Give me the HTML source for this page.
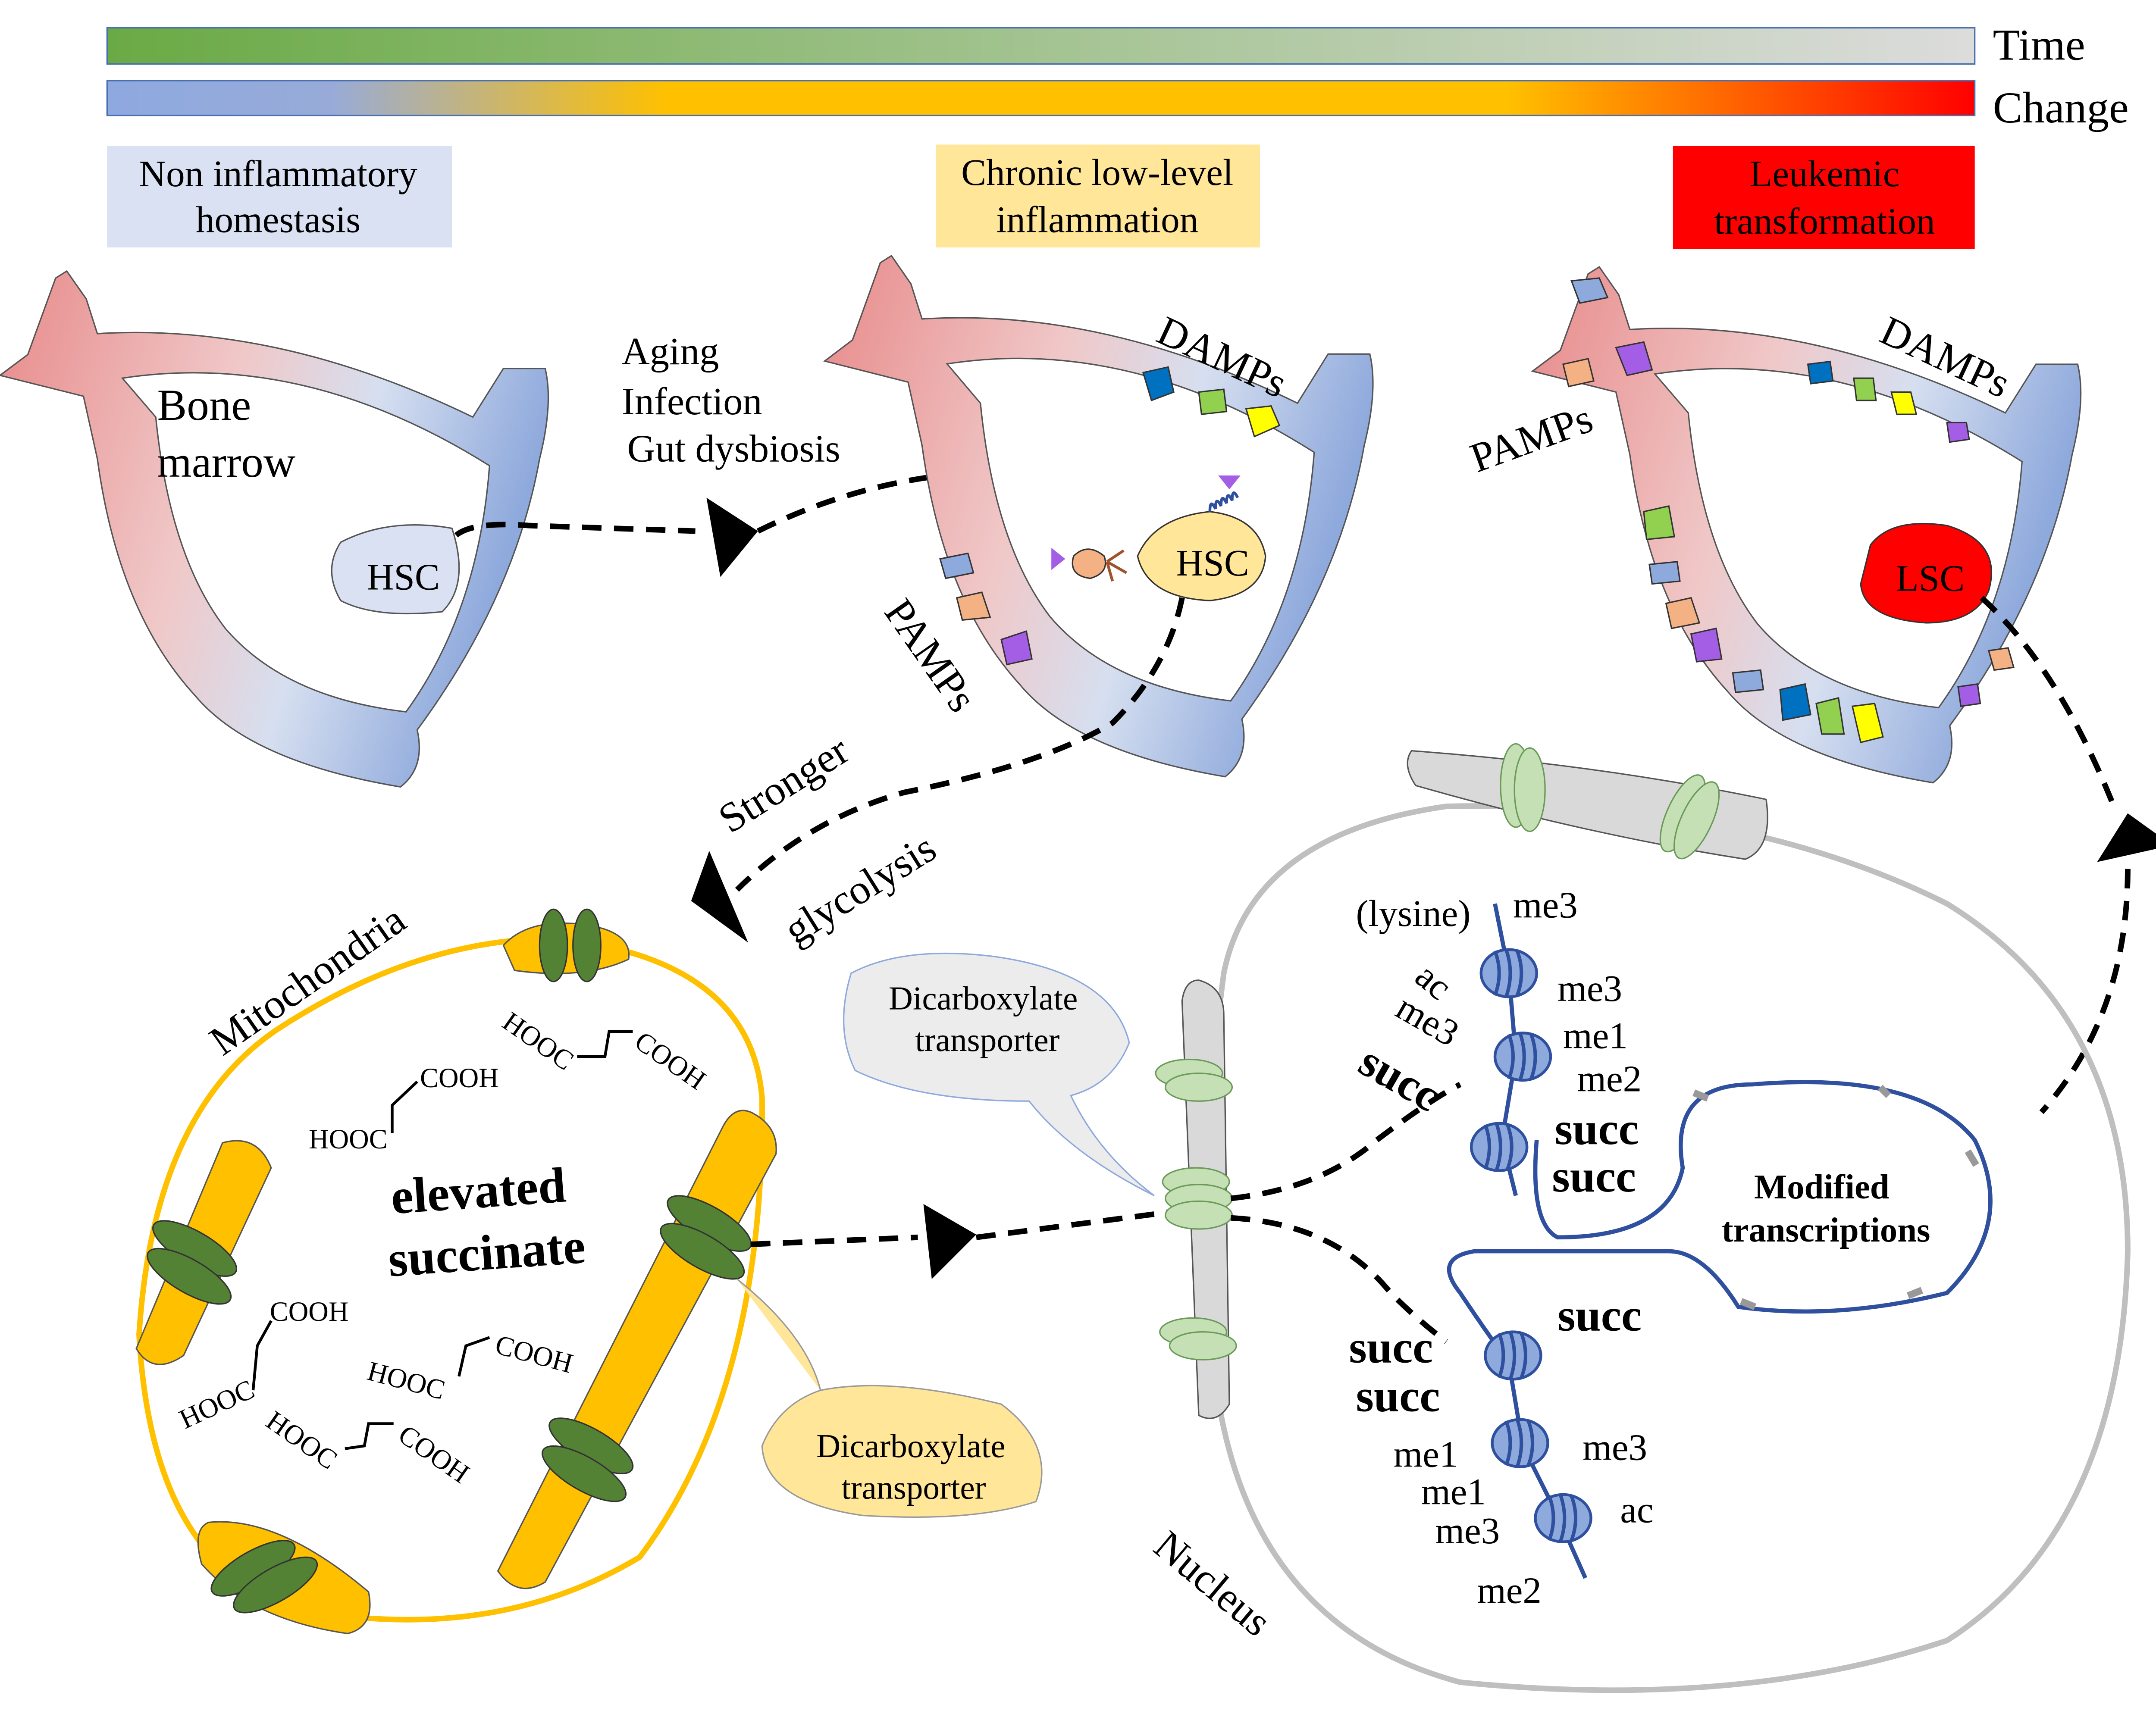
<!DOCTYPE html>
<html><head><meta charset="utf-8"><style>
html,body{margin:0;padding:0;background:#fff}
svg{display:block}
text{font-family:"Liberation Serif",serif;fill:#000}
</style></head><body>
<svg width="5057" height="3983" viewBox="0 0 1568 1235" xmlns="http://www.w3.org/2000/svg">
<defs>
<linearGradient id="gt" x1="0" x2="1"><stop offset="0" stop-color="#6aaa45"/><stop offset="1" stop-color="#dcdcdc"/></linearGradient>
<linearGradient id="gc" x1="0" x2="1"><stop offset="0" stop-color="#8ea9e0"/><stop offset="0.12" stop-color="#98abd8"/><stop offset="0.3" stop-color="#ffc000"/><stop offset="0.75" stop-color="#ffc000"/><stop offset="1" stop-color="#ff0000"/></linearGradient>
<linearGradient id="gb" x1="0" y1="0" x2="1" y2="0.3"><stop offset="0" stop-color="#e88a8a"/><stop offset="0.45" stop-color="#f0c8c8"/><stop offset="0.7" stop-color="#d6dff0"/><stop offset="1" stop-color="#8ea9dc"/></linearGradient>
<g id="bone">
<path d="M0,270 L20,255 L40,200 L48,195 L62,215 L70,240 Q200,232 340,300 L362,265 L392,265 Q398,290 388,330 Q370,430 300,525 Q306,552 288,566 Q180,548 140,500 Q85,440 70,330 L60,285 Z" fill="url(#gb)" stroke="#555" stroke-width="1"/>
<path d="M88,272 Q220,252 352,335 Q344,440 292,512 Q205,502 162,452 Q122,400 112,300 Z" fill="#fff" stroke="#555" stroke-width="1"/>
</g>
<g id="nuc"><ellipse cx="0" cy="0" rx="20" ry="17" fill="#8ea9dc" stroke="#2f4f9f" stroke-width="2"/><path d="M-10,-16 Q-4,0 -10,16 M-2,-17 Q4,0 -2,17 M6,-16 Q12,0 6,16" stroke="#2f4f9f" stroke-width="2.5" fill="none"/></g>
</defs>

<rect x="77" y="20" width="1343" height="26" fill="url(#gt)" stroke="#4a6fb0" stroke-width="1"/>
<rect x="77" y="58" width="1343" height="25" fill="url(#gc)" stroke="#4a6fb0" stroke-width="1"/>
<text x="1433" y="43" font-size="32">Time</text>
<text x="1433" y="88" font-size="32">Change</text>

<rect x="77" y="105" width="248" height="73" fill="#d9e1f2"/>
<text x="200" y="134" font-size="27" text-anchor="middle">Non inflammatory</text>
<text x="200" y="167" font-size="27" text-anchor="middle">homestasis</text>
<rect x="673" y="104" width="233" height="74" fill="#ffe699"/>
<text x="789" y="133" font-size="27" text-anchor="middle">Chronic low-level</text>
<text x="789" y="167" font-size="27" text-anchor="middle">inflammation</text>
<rect x="1203" y="105" width="217" height="74" fill="#ff0000"/>
<text x="1312" y="134" font-size="27" text-anchor="middle" fill="#111">Leukemic</text>
<text x="1312" y="168" font-size="27" text-anchor="middle">transformation</text>

<use href="#bone"/>
<text x="113" y="302" font-size="32">Bone</text>
<text x="113" y="343" font-size="32">marrow</text>
<path d="M245,390 Q280,372 325,380 Q338,420 318,440 Q270,445 245,432 Q232,410 245,390Z" fill="#d9e1f2" stroke="#555"/>
<text x="290" y="424" font-size="27" text-anchor="middle">HSC</text>

<text x="447" y="262" font-size="28">Aging</text>
<text x="447" y="298" font-size="28">Infection</text>
<text x="451" y="332" font-size="28">Gut dysbiosis</text>

<path d="M328,385 Q340,375 380,378 L500,382" stroke="#000" stroke-width="4" stroke-dasharray="14,9" fill="none"/>
<path d="M508,358 L545,382 L518,415 Z" fill="#000"/>
<path d="M545,382 Q620,345 700,340 Q800,340 840,375" stroke="#000" stroke-width="4" stroke-dasharray="14,9" fill="none"/>

<use href="#bone" transform="translate(593,-13) scale(1,1.01)"/>
<text x="830" y="245" font-size="30" transform="rotate(25 830 245)">DAMPs</text>
<text x="635" y="440" font-size="30" transform="rotate(55 635 440)">PAMPs</text>
<path d="M822,268 l18,-4 4,18 -16,6 z" fill="#0070c0" stroke="#333"/>
<path d="M862,282 l18,-2 2,16 -18,2 z" fill="#92d050" stroke="#333"/>
<path d="M896,294 l18,-2 6,14 -18,8 z" fill="#ffff00" stroke="#333"/>
<path d="M676,402 l20,-4 4,14 -20,4 z" fill="#8ea9dc" stroke="#333"/>
<path d="M688,430 l18,-4 6,18 -20,2 z" fill="#f4b183" stroke="#333"/>
<path d="M720,460 l18,-6 4,20 -18,4 z" fill="#a45ee5" stroke="#333"/>
<path d="M772,400 q10,-10 22,0 q4,12 -10,16 q-16,-2 -12,-16z" fill="#f4b183" stroke="#333"/>
<path d="M796,404 l12,-8 M796,404 l14,8 M796,404 l4,14" stroke="#a0522d" stroke-width="2"/>
<path d="M756,394 l10,8 -10,8z" fill="#a45ee5"/>
<path d="M876,342 l16,0 -8,10z" fill="#a45ee5"/>
<path d="M818,400 Q830,372 870,368 Q905,372 910,400 Q908,428 870,432 Q825,430 818,400Z" fill="#ffe699" stroke="#333"/>
<path d="M870,368 q0,-10 4,-2 q0,-10 4,-2 q0,-10 4,-2 q0,-10 4,-2 q0,-10 4,-2" stroke="#2f4f9f" stroke-width="2" fill="none"/>
<text x="872" y="414" font-size="27" text-anchor="middle">HSC</text>

<path d="M850,430 Q840,480 800,520 Q750,550 650,570 Q580,590 530,640" stroke="#000" stroke-width="4" stroke-dasharray="14,9" fill="none"/>
<path d="M497,648 L538,678 L510,612 Z" fill="#000"/>
<text x="525" y="600" font-size="30" transform="rotate(-32 525 600)">Stronger</text>
<text x="572" y="680" font-size="30" transform="rotate(-32 572 680)">glycolysis</text>

<use href="#bone" transform="translate(1102,-3)"/>
<text x="1350" y="245" font-size="30" transform="rotate(25 1350 245)">DAMPs</text>
<text x="1062" y="340" font-size="30" transform="rotate(-20 1062 340)">PAMPs</text>
<path d="M1300,262 l16,-2 2,14 -16,2 z" fill="#0070c0" stroke="#333"/>
<path d="M1333,272 l14,0 2,16 -14,0 z" fill="#92d050" stroke="#333"/>
<path d="M1360,282 l14,0 4,16 -14,0 z" fill="#ffff00" stroke="#333"/>
<path d="M1400,304 l14,0 2,12 -14,2 z" fill="#a45ee5" stroke="#333"/>
<path d="M1130,202 l20,-2 6,14 -20,4 z" fill="#8ea9dc" stroke="#333"/>
<path d="M1124,262 l18,-4 4,16 -18,4 z" fill="#f4b183" stroke="#333"/>
<path d="M1162,250 l20,-4 6,20 -18,4 z" fill="#a45ee5" stroke="#333"/>
<path d="M1182,368 l18,-4 4,22 -20,2 z" fill="#92d050" stroke="#333"/>
<path d="M1186,406 l20,-2 2,14 -20,2 z" fill="#8ea9dc" stroke="#333"/>
<path d="M1198,434 l18,-4 6,18 -20,4 z" fill="#f4b183" stroke="#333"/>
<path d="M1216,456 l18,-4 4,22 -18,2 z" fill="#a45ee5" stroke="#333"/>
<path d="M1246,484 l20,-2 2,14 -20,2 z" fill="#8ea9dc" stroke="#333"/>
<path d="M1280,496 l18,-4 4,22 -20,4 z" fill="#0070c0" stroke="#333"/>
<path d="M1306,506 l16,-4 4,26 -16,0 z" fill="#92d050" stroke="#333"/>
<path d="M1332,508 l16,-2 6,24 -16,4 z" fill="#ffff00" stroke="#333"/>
<path d="M1430,468 l14,-2 4,14 -14,2 z" fill="#f4b183" stroke="#333"/>
<path d="M1408,494 l14,-2 2,14 -14,2 z" fill="#a45ee5" stroke="#333"/>
<path d="M1345,392 Q1360,372 1400,378 Q1440,390 1430,425 Q1420,448 1385,448 Q1340,445 1338,420Z" fill="#ff0000" stroke="#333"/>
<text x="1388" y="425" font-size="27" text-anchor="middle">LSC</text>
<path d="M1425,430 Q1480,480 1520,580" stroke="#000" stroke-width="4" stroke-dasharray="14,9" fill="none"/>
<path d="M1508,620 L1530,585 L1562,608 Z" fill="#000"/>
<path d="M1530,625 Q1530,730 1468,800" stroke="#000" stroke-width="4" stroke-dasharray="14,9" fill="none"/>

<path d="M400,675 Q540,690 548,790 Q550,1000 460,1120 Q360,1180 230,1160 Q110,1140 100,960 Q110,800 200,740 Q300,675 400,675Z" fill="none" stroke="#ffc000" stroke-width="4"/>
<path d="M362,680 Q380,660 420,665 Q455,670 452,690 Q420,705 370,698Z" fill="#ffc000" stroke="#555"/>
<ellipse cx="398" cy="680" rx="10" ry="26" fill="#548235" stroke="#333"/>
<ellipse cx="422" cy="680" rx="10" ry="26" fill="#548235" stroke="#333"/>
<path d="M160,822 Q185,815 195,840 L132,975 Q110,990 98,970 Z" fill="#ffc000" stroke="#555"/>
<ellipse cx="140" cy="898" rx="12" ry="34" transform="rotate(-60 140 898)" fill="#548235" stroke="#333"/>
<ellipse cx="136" cy="918" rx="12" ry="34" transform="rotate(-60 136 918)" fill="#548235" stroke="#333"/>
<path d="M540,800 Q560,810 558,830 L392,1138 Q372,1150 358,1130 L520,810 Q528,795 540,800Z" fill="#ffc000" stroke="#555"/>
<ellipse cx="510" cy="880" rx="12" ry="34" transform="rotate(-60 510 880)" fill="#548235" stroke="#333"/>
<ellipse cx="505" cy="900" rx="12" ry="34" transform="rotate(-60 505 900)" fill="#548235" stroke="#333"/>
<ellipse cx="425" cy="1040" rx="12" ry="34" transform="rotate(-60 425 1040)" fill="#548235" stroke="#333"/>
<ellipse cx="420" cy="1060" rx="12" ry="34" transform="rotate(-60 420 1060)" fill="#548235" stroke="#333"/>
<path d="M150,1095 Q200,1090 265,1145 Q270,1170 250,1175 Q180,1165 145,1125 Q138,1100 150,1095Z" fill="#ffc000" stroke="#555"/>
<ellipse cx="182" cy="1128" rx="12" ry="34" transform="rotate(60 182 1128)" fill="#548235" stroke="#333"/>
<ellipse cx="198" cy="1140" rx="12" ry="34" transform="rotate(60 198 1140)" fill="#548235" stroke="#333"/>
<text x="160" y="760" font-size="30" transform="rotate(-35 160 760)">Mitochondria</text>
<text x="282" y="873" font-size="36" font-weight="bold" transform="rotate(-4 282 873)">elevated</text>
<text x="280" y="918" font-size="36" font-weight="bold" transform="rotate(-4 280 918)">succinate</text>
<g font-size="20">
<text x="222" y="826">HOOC</text><text x="302" y="782">COOH</text>
<path d="M282,815 L282,795 L300,778" stroke="#000" fill="none" stroke-width="2"/>
<text x="360" y="738" transform="rotate(35 360 738)">HOOC</text><text x="455" y="752" transform="rotate(35 455 752)">COOH</text>
<path d="M415,760 L435,760 L438,742 L455,742" stroke="#000" fill="none" stroke-width="2"/>
<text x="194" y="950">COOH</text><text x="133" y="1028" transform="rotate(-25 133 1028)">HOOC</text>
<path d="M182,1000 L185,968 L195,950" stroke="#000" fill="none" stroke-width="2"/>
<text x="263" y="992" transform="rotate(15 263 992)">HOOC</text><text x="355" y="973" transform="rotate(15 355 973)">COOH</text>
<path d="M330,990 L335,968 L352,962" stroke="#000" fill="none" stroke-width="2"/>
<text x="190" y="1025" transform="rotate(35 190 1025)">HOOC</text><text x="285" y="1035" transform="rotate(35 285 1035)">COOH</text>
<path d="M248,1042 L262,1040 L265,1024 L283,1024" stroke="#000" fill="none" stroke-width="2"/>
</g>
<path d="M530,920 Q580,960 590,1000 Q640,990 720,1010 Q760,1040 745,1080 Q700,1095 620,1090 Q550,1080 548,1040 Q560,1010 590,1000" fill="#ffe699" stroke="#999"/>
<text x="655" y="1048" font-size="24" text-anchor="middle">Dicarboxylate</text>
<text x="657" y="1078" font-size="24" text-anchor="middle">transporter</text>

<path d="M540,895 L660,890" stroke="#000" stroke-width="4" stroke-dasharray="14,9" fill="none"/>
<path d="M664,866 L702,888 L670,920 Z" fill="#000"/>
<path d="M702,890 L840,872" stroke="#000" stroke-width="4" stroke-dasharray="14,9" fill="none"/>

<path d="M1040,580 Q1250,575 1400,650 Q1530,730 1530,900 Q1525,1100 1400,1180 Q1250,1230 1050,1210 Q900,1170 875,1000 Q860,850 880,700 Q900,600 1040,580Z" fill="none" stroke="#bfbfbf" stroke-width="4"/>
<path d="M1015,540 Q1150,550 1270,575 Q1275,610 1255,618 Q1140,600 1018,565 Q1008,550 1015,540Z" fill="#d9d9d9" stroke="#555"/>
<ellipse cx="1090" cy="565" rx="11" ry="30" fill="#c5e0b4" stroke="#6a9a5a"/><ellipse cx="1100" cy="568" rx="11" ry="30" fill="#c5e0b4" stroke="#6a9a5a"/>
<ellipse cx="1210" cy="585" rx="11" ry="30" transform="rotate(25 1210 585)" fill="#c5e0b4" stroke="#6a9a5a"/><ellipse cx="1220" cy="590" rx="11" ry="30" transform="rotate(25 1220 590)" fill="#c5e0b4" stroke="#6a9a5a"/>
<path d="M862,705 Q880,710 880,730 L884,1010 Q875,1025 862,1018 L850,720 Q852,705 862,705Z" fill="#d9d9d9" stroke="#555"/>
<ellipse cx="855" cy="772" rx="24" ry="10" fill="#c5e0b4" stroke="#6a9a5a"/><ellipse cx="862" cy="782" rx="24" ry="10" fill="#c5e0b4" stroke="#6a9a5a"/>
<ellipse cx="860" cy="850" rx="24" ry="10" fill="#c5e0b4" stroke="#6a9a5a"/><ellipse cx="862" cy="862" rx="24" ry="10" fill="#c5e0b4" stroke="#6a9a5a"/><ellipse cx="862" cy="874" rx="24" ry="10" fill="#c5e0b4" stroke="#6a9a5a"/>
<ellipse cx="858" cy="958" rx="24" ry="10" fill="#c5e0b4" stroke="#6a9a5a"/><ellipse cx="865" cy="968" rx="24" ry="10" fill="#c5e0b4" stroke="#6a9a5a"/>
<path d="M612,700 Q650,680 715,688 Q800,700 812,750 Q800,780 770,788 Q790,830 830,860 Q770,830 740,792 Q660,792 615,770 Q600,740 612,700Z" fill="#ececec" stroke="#8ea9dc"/>
<text x="707" y="726" font-size="24" text-anchor="middle">Dicarboxylate</text>
<text x="710" y="756" font-size="24" text-anchor="middle">transporter</text>
<text x="828" y="1115" font-size="30" transform="rotate(40 828 1115)">Nucleus</text>

<path d="M885,862 Q950,855 990,820 Q1030,790 1050,780" stroke="#000" stroke-width="4" stroke-dasharray="14,9" fill="none"/>
<path d="M885,876 Q960,880 1000,930 Q1020,950 1040,965" stroke="#000" stroke-width="4" stroke-dasharray="14,9" fill="none"/>

<path d="M1075,650 L1085,700 L1090,760 L1080,820 L1090,860 M1105,820 Q1100,880 1120,890 Q1200,890 1210,840 Q1200,780 1260,780 Q1380,770 1420,820 Q1450,880 1400,930 Q1320,950 1250,940 Q1225,900 1200,900 Q1120,900 1060,900 Q1030,905 1050,930 Q1070,960 1085,980 L1095,1040 L1120,1090 L1140,1135" stroke="#2f4f9f" stroke-width="3" fill="none"/>
<use href="#nuc" transform="translate(1085,700)"/>
<use href="#nuc" transform="translate(1095,760)"/>
<use href="#nuc" transform="translate(1078,825)"/>
<use href="#nuc" transform="translate(1088,975)"/>
<use href="#nuc" transform="translate(1093,1038)"/>
<use href="#nuc" transform="translate(1124,1092)"/>
<path d="M1228,790 l-10,-4 M1352,782 l6,6 M1415,828 l6,10 M1372,932 l10,-4 M1262,940 l-10,-4" stroke="#999" stroke-width="5"/>
<g font-size="27">
<text x="975" y="666">(lysine)</text>
<text x="1088" y="660">me3</text>
<text x="1120" y="720">me3</text>
<text x="1016" y="705" transform="rotate(40 1016 705)">ac</text>
<text x="1002" y="730" transform="rotate(30 1002 730)">me3</text>
<text x="1124" y="754">me1</text>
<text x="1134" y="785">me2</text>
<text x="1138" y="1050">me3</text>
<text x="1002" y="1055">me1</text>
<text x="1022" y="1082">me1</text>
<text x="1032" y="1110">me3</text>
<text x="1062" y="1153">me2</text>
<text x="1165" y="1095">ac</text>
</g>
<g font-size="33" font-weight="bold">
<text x="975" y="770" transform="rotate(30 975 770)">succ</text>
<text x="1118" y="823">succ</text>
<text x="1116" y="857">succ</text>
<text x="1120" y="957">succ</text>
<text x="970" y="980">succ</text>
<text x="975" y="1015">succ</text>
</g>
<text x="1310" y="862" font-size="25" font-weight="bold" text-anchor="middle">Modified</text>
<text x="1313" y="893" font-size="25" font-weight="bold" text-anchor="middle">transcriptions</text>
</svg>
</body></html>
